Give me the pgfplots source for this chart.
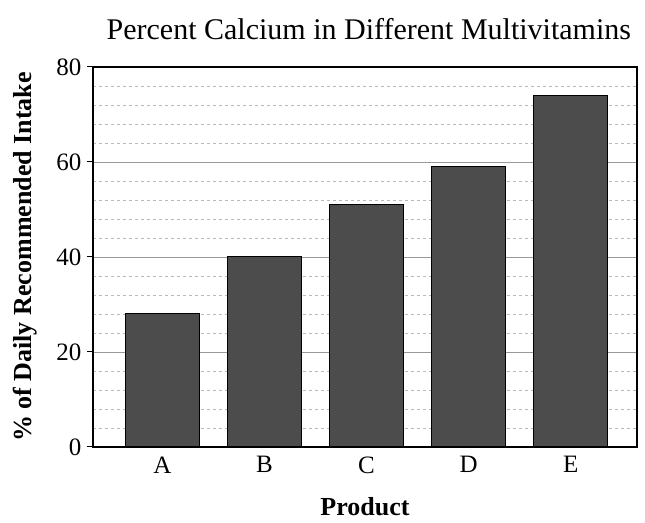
\documentclass[border=0pt]{standalone}
\usepackage{fontspec}
\setmainfont{Liberation Serif}
\usepackage{pgfplots}
\pgfplotsset{compat=1.18}
\begin{document}
\begin{tikzpicture}
\begin{axis}[
  scale only axis,
  width=544pt, height=380pt,
  ymin=0, ymax=80,
  xmin=-0.68, xmax=4.65,
  ytick={0,20,40,60,80},
  minor y tick num=4,
  xtick={0,1,2,3,4},
  xticklabels={A,B,C,D,E},
  ytick pos=left,
  ymajorgrids, yminorgrids,
  major grid style={gray!80, line width=0.8pt},
  minor grid style={gray!55, line width=0.5pt, dashed},
  axis line style={black, line width=1.1pt},
  tick align=outside,
  ytick style={black, line width=1pt},
  major tick length=6pt,
  minor tick length=0pt,
  xtick style={draw=none},
  /pgf/number format/assume math mode=true,
  ticklabel style={font=\fontsize{25}{27}\selectfont},
  yticklabel style={xshift=-2pt},
  title={Percent Calcium in Different Multivitamins},
  title style={font=\fontsize{30}{32}\selectfont, at={(axis description cs:0.507,1.084)}, anchor=center},
  xlabel={\textbf{Product}},
  ylabel={\textbf{\% of Daily Recommended Intake}},
  label style={font=\fontsize{26}{28}\selectfont},
  xlabel style={at={(axis description cs:0.5,-0.158)}, anchor=center},
  ylabel style={at={(axis description cs:-0.125,0.5)}, anchor=center},
]
\addplot[ybar, bar width=0.72, fill=black!70, draw=black, line width=1pt]
  coordinates {(0,28) (1,40) (2,51) (3,59) (4,74)};
\end{axis}
\path[use as bounding box] ([shift={(-93pt,-76pt)}]current axis.south west) rectangle ([shift={(8pt,67pt)}]current axis.north east);
\end{tikzpicture}
\end{document}
